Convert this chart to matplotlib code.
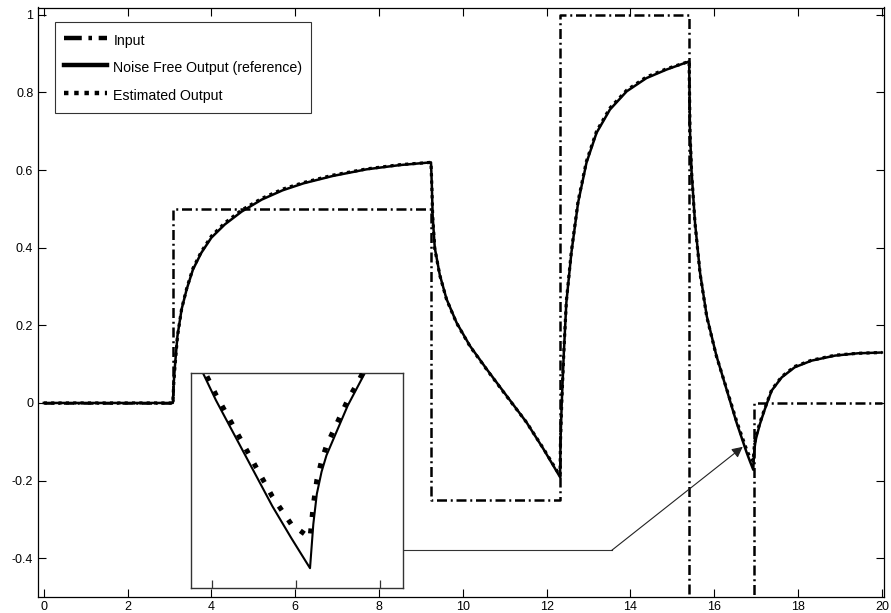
import matplotlib.pyplot as plt
import numpy as np

plt.rcParams['font.family'] = ['Liberation Sans', 'DejaVu Sans']
plt.rcParams['axes.unicode_minus'] = False

# input signal (piecewise constant, steps-post)
t_in = [0, 3.08, 9.24, 12.32, 15.40, 16.94, 20]
u_in = [0, 0.5, -0.25, 1.0, -1.0, 0.0, 0.0]

# output samples
t_out = [0.00, 3.08, 3.10, 3.13, 3.19, 3.29, 3.41, 3.56, 3.76, 4.00, 4.32, 4.72,
         5.20, 5.70, 6.20, 6.90, 7.70, 8.50, 9.24, 9.26, 9.28, 9.33, 9.45, 9.61,
         9.85, 10.17, 10.57, 11.04, 11.52, 11.92, 12.32, 12.33, 12.36, 12.41, 12.47,
         12.59, 12.75, 12.95, 13.19, 13.51, 13.91, 14.38, 14.86, 15.40, 15.42, 15.46,
         15.54, 15.66, 15.82, 16.05, 16.29, 16.53, 16.77, 16.85, 16.93, 16.944,
         16.959, 16.979, 17.00, 17.03, 17.06, 17.09, 17.13, 17.17, 17.21, 17.25,
         17.37, 17.61, 17.92, 18.32, 18.88, 19.43, 20.00]
y_ref = [0.000, 0.000, 0.050, 0.096, 0.173, 0.242, 0.293, 0.344, 0.387, 0.426, 0.460, 0.493,
         0.524, 0.548, 0.566, 0.585, 0.602, 0.613, 0.620, 0.560, 0.482, 0.400, 0.330, 0.268,
         0.207, 0.147, 0.087, 0.019, -0.050, -0.118, -0.191, -0.100, 0.000, 0.130, 0.259,
         0.387, 0.516, 0.619, 0.696, 0.756, 0.803, 0.837, 0.859, 0.880, 0.700, 0.593,
         0.465, 0.336, 0.224, 0.122, 0.036, -0.050, -0.127, -0.150, -0.172, -0.140,
         -0.118, -0.102, -0.090, -0.078, -0.066, -0.054, -0.041, -0.028, -0.015, -0.003,
         0.032, 0.066, 0.092, 0.109, 0.122, 0.128, 0.130]
y_est = [0.000, 0.000, 0.048, 0.094, 0.172, 0.243, 0.295, 0.347, 0.390, 0.430, 0.464, 0.497,
         0.527, 0.551, 0.568, 0.587, 0.603, 0.614, 0.620, 0.558, 0.480, 0.398, 0.329, 0.267,
         0.206, 0.146, 0.086, 0.018, -0.050, -0.117, -0.188, -0.098, 0.002, 0.132, 0.262,
         0.391, 0.520, 0.623, 0.700, 0.760, 0.806, 0.840, 0.861, 0.880, 0.698, 0.591,
         0.463, 0.334, 0.222, 0.121, 0.038, -0.046, -0.120, -0.140, -0.150, -0.126,
         -0.108, -0.094, -0.083, -0.072, -0.061, -0.050, -0.038, -0.025, -0.013, -0.001,
         0.034, 0.068, 0.094, 0.110, 0.123, 0.128, 0.130]

fig = plt.figure(figsize=(8.91, 6.13), dpi=100)
ax = fig.add_axes([37.5 / 891, 1 - 597 / 613, 846.5 / 891, 589.5 / 613])

dashdot = (0, (4, 1.5, 0.8, 1.5))
ax.plot(t_in, u_in, drawstyle='steps-post', color='black', lw=1.8,
        linestyle=dashdot, label='Input', zorder=2)
ax.plot(t_out, y_ref, color='black', lw=1.8, label='Noise Free Output (reference)', zorder=4)
ax.plot(t_out, y_est, color='black', lw=2.3, linestyle=(0, (1, 1.3)),
        label='Estimated Output', zorder=3)

ax.set_xlim(-0.15, 20.05)
ax.set_ylim(-0.5, 1.019)
ax.set_xticks(np.arange(0, 21, 2))
ax.set_xticklabels([str(v) for v in range(0, 21, 2)])
ax.set_yticks([-0.4, -0.2, 0, 0.2, 0.4, 0.6, 0.8, 1.0])
ax.set_yticklabels(['-0.4', '-0.2', '0', '0.2', '0.4', '0.6', '0.8', '1'])
ax.tick_params(direction='in', length=6, width=0.8, top=True, right=True,
               labelsize=9, pad=3)
for s in ax.spines.values():
    s.set_linewidth(0.9)

# legend with thicker handles
leg = ax.legend(loc='upper left', bbox_to_anchor=(0.0207, 0.975), borderaxespad=0,
                fontsize=10.2, frameon=True, fancybox=False, edgecolor='black',
                handlelength=3.1, handleheight=1.7, handletextpad=0.42,
                labelspacing=0.58, borderpad=0.6)
leg.get_frame().set_linewidth(0.8)
for h in leg.get_lines():
    h.set_linewidth(3.2)

# inset zoom of the last minimum
ins = fig.add_axes([191 / 891, 1 - 588.3 / 613, 211.7 / 891, 215.6 / 613], zorder=5)
x0, w = 16.424, 0.9
ins.plot(t_out, y_ref, color='black', lw=1.5, zorder=2)
ins.plot(t_out, y_est, color='black', lw=3.6, linestyle=(0, (1, 2.3)), zorder=3)
ins.set_xlim(x0, x0 + w)
ins.set_ylim(-0.1866, -0.030)
ins.set_xticks([x0 + w * f for f in (0.097, 0.494, 0.892)])
ins.set_xticklabels([])
ins.set_yticks([])
ins.tick_params(axis='x', direction='in', length=6, width=0.9, color='#333333')
for s in ins.spines.values():
    s.set_linewidth(1.0)
    s.set_edgecolor('#333333')

# connector line + arrow from inset to the minimum
ax.plot([8.56, 13.55], [-0.38, -0.38], color='#333333', lw=0.8, zorder=6)
ax.annotate('', xy=(16.68, -0.113), xytext=(13.55, -0.38),
            arrowprops=dict(arrowstyle='-|>', color='#222222', lw=0.8,
                            mutation_scale=16, shrinkA=0, shrinkB=0), zorder=6)

fig.savefig('out.png', dpi=100)
